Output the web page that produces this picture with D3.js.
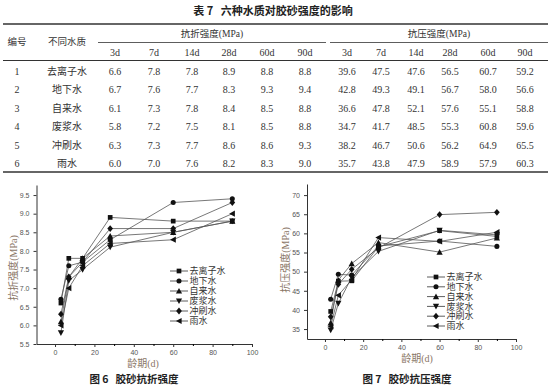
<!DOCTYPE html>
<html>
<head>
<meta charset="utf-8">
<script src="https://cdn.jsdelivr.net/npm/d3@7"></script>
<style>
  body { margin: 0; background: #fff; }
  svg { display: block; }
  text { white-space: pre; }
</style>
</head>
<body>
<svg id="fig" width="550" height="386"></svg>
<script>
// ages in days
const ages = [3, 7, 14, 28, 60, 90];
const waterTypes = ["去离子水", "地下水", "自来水", "废浆水", "冲刷水", "雨水"];
const markers = ["square", "circle", "triUp", "triDown", "diamond", "triLeft"];

// flexural strength (MPa)
const flexural = [
  [6.6, 7.8, 7.8, 8.9, 8.8, 8.8],
  [6.7, 7.6, 7.7, 8.3, 9.3, 9.4],
  [6.1, 7.3, 7.8, 8.4, 8.5, 8.8],
  [5.8, 7.2, 7.5, 8.1, 8.5, 8.8],
  [6.3, 7.3, 7.7, 8.6, 8.6, 9.3],
  [6.0, 7.0, 7.6, 8.2, 8.3, 9.0]
];
// compressive strength (MPa)
const compressive = [
  [39.6, 47.5, 47.6, 56.5, 60.7, 59.2],
  [42.8, 49.3, 49.1, 56.7, 58.0, 56.6],
  [36.6, 47.8, 52.1, 57.6, 55.1, 58.8],
  [34.7, 41.7, 48.5, 55.3, 60.8, 59.6],
  [38.2, 46.7, 50.6, 56.2, 64.9, 65.5],
  [35.7, 43.8, 47.9, 58.9, 57.9, 60.3]
];
const ageLabels = ["3d", "7d", "14d", "28d", "60d", "90d"];
const flexTicks = [5.5, 6.0, 6.5, 7.0, 7.5, 8.0, 8.5, 9.0, 9.5];
const compTicks = [35, 40, 45, 50, 55, 60, 65, 70];
const ageTicks = [0, 20, 40, 60, 80, 100];

const svg = d3.select("#fig");
const cjk = "'Noto Sans CJK SC', sans-serif";
const serif = "'Liberation Serif', 'Noto Sans CJK SC', serif";

// ---------- table ----------
const tbl = svg.append("g");
tbl.append("text").attr("x", 273).attr("y", 15).attr("text-anchor", "middle")
  .style("font", "bold 11px " + cjk).attr("fill", "#222")
  .text("表 7   六种水质对胶砂强度的影响");

const rule = (x1, x2, y, w) => tbl.append("line")
  .attr("x1", x1).attr("x2", x2).attr("y1", y).attr("y2", y)
  .attr("stroke", "#333").attr("stroke-width", w);
rule(3, 548, 24, 1.4);
rule(98, 326, 42.5, 0.8);
rule(330, 548, 42.5, 0.8);
rule(3, 548, 60.5, 1);
rule(3, 548, 172, 1.4);

const colX = [115, 154, 192, 229, 267, 305, 347, 381, 416, 450, 488, 525];
const rowY = [71, 89.5, 108, 126.5, 145, 163];
const cell = (x, y, t, font) => tbl.append("text")
  .attr("x", x).attr("y", y).attr("dy", "0.35em").attr("text-anchor", "middle")
  .style("font", font).attr("fill", "#333").text(t);

cell(17, 42, "编号", "9.5px " + cjk);
cell(67, 42, "不同水质", "9.5px " + cjk);
cell(212, 34, "抗折强度(MPa)", "9.5px " + serif);
cell(439, 34, "抗压强度(MPa)", "9.5px " + serif);
colX.forEach((x, i) => cell(x, 52, ageLabels[i % 6], "10px " + serif));
waterTypes.forEach((w, r) => {
  cell(17, rowY[r], String(r + 1), "10px " + serif);
  cell(67, rowY[r], w, "10px " + cjk);
  flexural[r].forEach((v, i) => cell(colX[i], rowY[r], v.toFixed(1), "10px " + serif));
  compressive[r].forEach((v, i) => cell(colX[i + 6], rowY[r], v.toFixed(1), "10px " + serif));
});

// ---------- markers ----------
function marker(g, type, x, y) {
  const s = 2.6;
  let p;
  if (type === "square") p = d3.symbol(d3.symbolSquare, 22)();
  else if (type === "circle") p = d3.symbol(d3.symbolCircle, 20)();
  else if (type === "diamond") p = `M0,${-s * 1.3}L${s * 1.1},0L0,${s * 1.3}L${-s * 1.1},0Z`;
  else if (type === "triUp") p = `M0,${-s * 1.2}L${s * 1.2},${s}L${-s * 1.2},${s}Z`;
  else if (type === "triDown") p = `M0,${s * 1.2}L${s * 1.2},${-s}L${-s * 1.2},${-s}Z`;
  else p = `M${-s * 1.2},0L${s},${-s * 1.2}L${s},${s * 1.2}Z`;
  g.append("path").attr("d", p).attr("transform", `translate(${x},${y})`).attr("fill", "#111");
}

// ---------- charts ----------
function chart(cfg) {
  const g = svg.append("g");
  const x = d3.scaleLinear().domain([-9.4, 100]).range(cfg.xr);
  const y = d3.scaleLinear().domain(cfg.yd).range(cfg.yr);

  const xAxis = g.append("g").attr("transform", `translate(0,${cfg.yr[0]})`)
    .call(d3.axisBottom(x).tickValues(ageTicks).tickSize(3).tickPadding(3).tickSizeOuter(0));
  g.append("g").attr("transform", `translate(0,${cfg.yr[0]})`)
    .call(d3.axisBottom(x).tickValues([10, 30, 50, 70, 90]).tickSize(2).tickFormat("").tickSizeOuter(0))
    .select(".domain").remove();
  const yAxis = g.append("g").attr("transform", `translate(${cfg.xr[0]},0)`)
    .call(d3.axisLeft(y).tickValues(cfg.ticks).tickSize(3).tickPadding(4).tickSizeOuter(0)
      .tickFormat(cfg.fmt));
  [xAxis, yAxis].forEach(a => {
    a.selectAll("text").style("font", "7px 'Liberation Sans', Arial, sans-serif").attr("fill", "#555");
    a.selectAll("line,path").attr("stroke", "#333");
  });

  const line = d3.line().x((d, i) => x(ages[i])).y(d => y(d));
  cfg.data.forEach(s => {
    g.append("path").datum(s).attr("d", line)
      .attr("fill", "none").attr("stroke", "#555").attr("stroke-width", 0.8);
  });
  cfg.data.forEach((s, k) => s.forEach((v, i) => marker(g, markers[k], x(ages[i]), y(v))));

  // legend
  waterTypes.forEach((w, k) => {
    const ly = cfg.leg[1] + k * cfg.leg[2];
    g.append("line").attr("x1", cfg.leg[0]).attr("x2", cfg.leg[0] + 18)
      .attr("y1", ly).attr("y2", ly).attr("stroke", "#333").attr("stroke-width", 0.8);
    marker(g, markers[k], cfg.leg[0] + 9, ly);
    g.append("text").attr("x", cfg.leg[0] + 19.5).attr("y", ly).attr("dy", "0.36em")
      .style("font", "9px " + serif).attr("fill", "#333").text(w);
  });

  g.append("text").attr("transform", `translate(${cfg.yt[0]},${cfg.yt[1]}) rotate(-90)`)
    .attr("text-anchor", "middle").attr("dy", "0.35em")
    .style("font", "10px " + serif).attr("fill", "#8a7666").text(cfg.ytitle);
  g.append("text").attr("x", cfg.xt[0]).attr("y", cfg.xt[1]).attr("dy", "0.35em")
    .attr("text-anchor", "middle").style("font", "10px " + serif).attr("fill", "#8a7666")
    .text("龄期(d)");
  g.append("text").attr("x", cfg.cap[0]).attr("y", cfg.cap[1]).attr("dy", "0.35em")
    .attr("text-anchor", "middle").style("font", "bold 10.5px " + cjk).attr("fill", "#222")
    .text(cfg.caption);
}

chart({
  data: flexural, xr: [36.5, 252], yd: [5.5, 9.77], yr: [344, 185],
  ticks: flexTicks, fmt: d3.format(".1f"),
  leg: [170, 271, 10], ytitle: "抗折强度(MPa)", yt: [13, 268], xt: [143, 363],
  cap: [134, 379], caption: "图 6   胶砂抗折强度"
});
chart({
  data: compressive, xr: [307, 516], yd: [32.4, 72.9], yr: [339, 184],
  ticks: compTicks, fmt: d3.format("d"),
  leg: [427, 277, 9.8], ytitle: "抗压强度(MPa)", yt: [285, 260], xt: [417, 358],
  cap: [407, 379], caption: "图 7   胶砂抗压强度"
});
</script>
</body>
</html>
